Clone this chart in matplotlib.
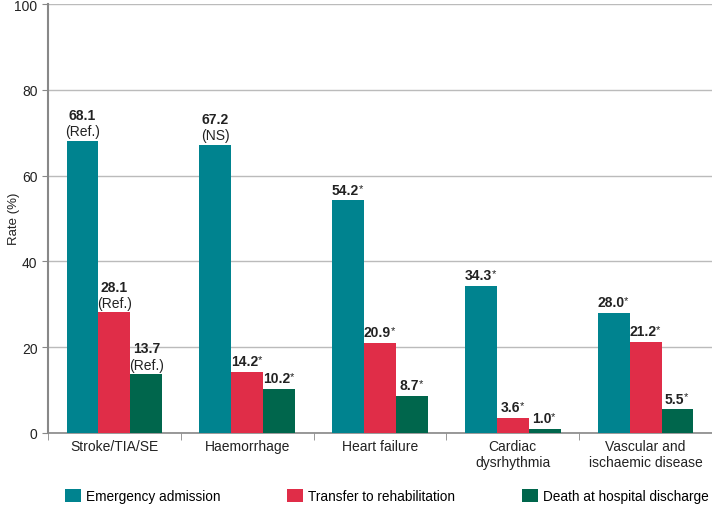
import numpy as np
import matplotlib
matplotlib.use("Agg")
import matplotlib.pyplot as plt

plt.rcParams['font.family'] = ['Liberation Sans', 'DejaVu Sans']

categories = ["Stroke/TIA/SE", "Haemorrhage", "Heart failure",
              "Cardiac\ndysrhythmia", "Vascular and\nischaemic disease"]
series_names = ["Emergency admission", "Transfer to rehabilitation",
                "Death at hospital discharge"]
emergency = [68.1, 67.2, 54.2, 34.3, 28.0]
transfer = [28.1, 14.2, 20.9, 3.6, 21.2]
death = [13.7, 10.2, 8.7, 1.0, 5.5]
emergency_note = ["(Ref.)", "(NS)", "*", "*", "*"]
transfer_note = ["(Ref.)", "*", "*", "*", "*"]
death_note = ["(Ref.)", "*", "*", "*", "*"]

colors = ["#00838F", "#E02D48", "#00664C"]

fig = plt.figure(figsize=(7.12, 5.06), dpi=100)
ax = fig.add_axes([0.0674, 0.1423, 0.9326, 0.8478])

x = np.arange(len(categories))
w = 0.24
series = [emergency, transfer, death]
notes = [emergency_note, transfer_note, death_note]

for i, (vals, nts) in enumerate(zip(series, notes)):
    pos = x + (i - 1) * w
    ax.bar(pos, vals, w, color=colors[i], label=series_names[i], zorder=3)
    for p, v, n in zip(pos, vals, nts):
        if n == "*":
            # bold value with a small superscript asterisk
            t = ax.annotate("%.1f" % v, xy=(p, v + 0.9), xytext=(-2, 0),
                            textcoords="offset points", ha="center", va="bottom",
                            fontsize=10, fontweight="bold", color="#222222")
            ax.annotate("*", xy=(1, 1), xycoords=t, xytext=(-0.3, 0),
                        textcoords="offset points", ha="left", va="top",
                        fontsize=8, color="#222222")
        else:
            ax.text(p, v + 0.6, n, ha="center", va="bottom",
                    fontsize=10, color="#222222")
            ax.text(p, v + 4.4, "%.1f" % v, ha="center", va="bottom",
                    fontsize=10, fontweight="bold", color="#222222")

ax.set_xlim(-0.5, len(categories) - 0.5)
ax.set_ylim(0, 100)
ax.set_yticks([0, 20, 40, 60, 80, 100])
ax.set_xticks(x)
ax.set_xticklabels(categories, fontsize=10, color="#222222")
ax.tick_params(axis="x", length=0, pad=4)
ax.set_xticks(np.arange(len(categories) + 1) - 0.5, minor=True)
ax.tick_params(axis="x", which="minor", length=5, color="#888888")
ax.tick_params(axis="y", labelsize=10, colors="#222222", length=4, color="#888888")
ax.yaxis.grid(True, color="#bbbbbb", linewidth=1, zorder=0)
fig.text(8 / 712, 0.5674, "Rate (%)", rotation=90, ha="left", va="center",
         fontsize=9.5, color="#222222")

for s in ["top", "right"]:
    ax.spines[s].set_visible(False)
ax.spines["left"].set_color("#888888")
ax.spines["left"].set_linewidth(1.5)
ax.spines["bottom"].set_color("#888888")
ax.spines["bottom"].set_linewidth(1.2)

fig.legend(loc="lower left", bbox_to_anchor=(63 / 712, 0.0), ncol=3, frameon=False,
           fontsize=9.8, handlelength=1.15, handleheight=1.15, columnspacing=4.9,
           handletextpad=0.4, borderpad=0.15, borderaxespad=0)

fig.savefig("out.png", dpi=100)
